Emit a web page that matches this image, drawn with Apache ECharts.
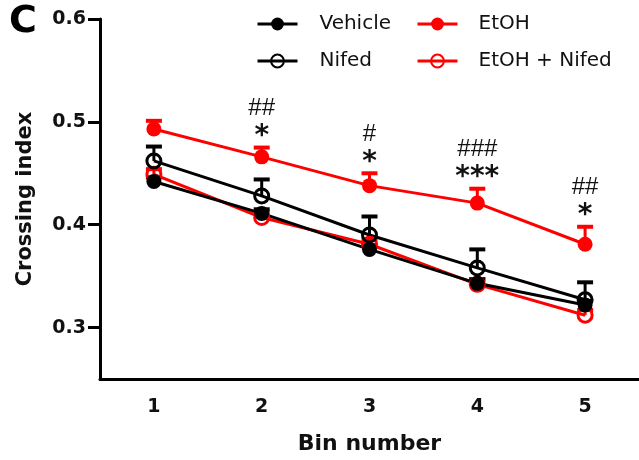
<!DOCTYPE html>
<html>
<head>
<meta charset="utf-8">
<script src="https://cdn.jsdelivr.net/npm/echarts@6/dist/echarts.min.js"></script>
<style>
html,body{margin:0;padding:0;background:#fff;}
#chart{width:639px;height:460px;}
</style>
</head>
<body>
<div id="chart"></div>
<script>
// bins and tick labels
var bins = ['1', '2', '3', '4', '5'];
var yTicks = [0.3, 0.4, 0.5, 0.6];

// group means and upper SEM
var vehicle = [0.442, 0.411, 0.376, 0.343, 0.322];
var vehicleErr = [0.004, 0.004, 0.004, 0.004, 0.004];
var nifed = [0.462, 0.428, 0.390, 0.358, 0.327];
var nifedErr = [0.014, 0.016, 0.018, 0.018, 0.017];
var etoh = [0.493, 0.466, 0.438, 0.421, 0.381];
var etohErr = [0.008, 0.009, 0.012, 0.014, 0.017];
var etohNifed = [0.449, 0.407, 0.381, 0.342, 0.312];
var etohNifedErr = [0.005, 0.005, 0.005, 0.005, 0.005];

// significance marks over EtOH
var hashMarks = ['', '##', '#', '###', '##'];
var starMarks = ['', '*', '*', '***', '*'];

var FONT = 'DejaVu Sans';

function errData(mean, err){
	return mean.map(function(m, i){ return [i, m, err[i]]; });
}

function errRender(color, withMarks){
	return function(params, api){
		var i = api.value(0), m = api.value(1), e = api.value(2);
		var p0 = api.coord([i, m]);
		var p1 = api.coord([i, m + e]);
		var kids = [
			{type:'line', shape:{x1:p0[0], y1:p0[1], x2:p1[0], y2:p1[1]}, style:{stroke:color, lineWidth:3}},
			{type:'line', shape:{x1:p1[0]-8, y1:p1[1], x2:p1[0]+8, y2:p1[1]}, style:{stroke:color, lineWidth:4}}
		];
		if (withMarks) {
			kids.push({type:'text', x:p1[0], y:p1[1]-39, style:{text:hashMarks[params.dataIndex], fill:'#111',
				fontFamily:'Liberation Sans', fontSize:24, align:'center', verticalAlign:'middle'}});
			kids.push({type:'text', x:p1[0], y:p1[1]-11, style:{text:starMarks[params.dataIndex], fill:'#111',
				fontFamily:FONT, fontWeight:'bold', fontSize:28, align:'center', verticalAlign:'middle'}});
		}
		return {type:'group', children:kids};
	};
}

function lineSeries(name, data, color, open){
	return {
		name: name,
		type: 'line',
		data: data,
		z: 3,
		symbol: 'circle',
		symbolSize: open ? 14 : 15,
		lineStyle: {color: color, width: 3},
		itemStyle: open ? {color: 'rgba(255,255,255,0)', borderColor: color, borderWidth: 3}
		                : {color: color, borderColor: color, borderWidth: 0},
		emphasis: {disabled: true},
		animation: false
	};
}

function errSeries(name, mean, err, color, withMarks){
	return {
		name: name,
		type: 'custom',
		z: 2,
		data: errData(mean, err),
		renderItem: errRender(color, withMarks),
		animation: false
	};
}

var myChart = echarts.init(document.getElementById('chart'));

var legendText = {fontFamily: FONT, fontSize: 20, color: '#111'};

var option = {
	title: {
		text: 'C', left: 4, top: -2,
		textStyle: {fontFamily: FONT, fontWeight: 'bold', fontSize: 38, color: '#000'}
	},
	legend: [{
		data: ['Vehicle', 'Nifed'],
		orient: 'vertical',
		left: 251, top: 9,
		itemWidth: 40, itemHeight: 16, itemGap: 17,
		lineStyle: {width: 3},
		textStyle: Object.assign({padding: [0, 0, 0, 17]}, legendText)
	}, {
		data: ['EtOH', 'EtOH + Nifed'],
		orient: 'vertical',
		left: 411, top: 9,
		itemWidth: 40, itemHeight: 16, itemGap: 17,
		lineStyle: {width: 3},
		textStyle: Object.assign({padding: [0, 0, 0, 16]}, legendText)
	}],
	grid: {left: 100, right: -3, top: 19, bottom: 81, containLabel: false},
	xAxis: {
		type: 'category',
		data: bins,
		name: 'Bin number',
		nameLocation: 'middle',
		nameGap: 54,
		nameTextStyle: {fontFamily: FONT, fontWeight: 'bold', fontSize: 22, color: '#111'},
		axisLine: {lineStyle: {color: '#000', width: 3}},
		axisTick: {alignWithLabel: true, length: 9, lineStyle: {color: '#000', width: 3}},
		axisLabel: {margin: 19, fontFamily: FONT, fontWeight: 'bold', fontSize: 19, color: '#111'},
		splitLine: {show: false}
	},
	yAxis: {
		type: 'value',
		min: 0.25, max: 0.6,
		name: 'Crossing index',
		nameLocation: 'middle',
		nameGap: 64,
		nameTextStyle: {fontFamily: FONT, fontWeight: 'bold', fontSize: 21, color: '#111'},
		axisLine: {show: true, lineStyle: {color: '#000', width: 3}},
		axisTick: {show: true, length: 12, customValues: yTicks, lineStyle: {color: '#000', width: 3}},
		axisLabel: {margin: 14, customValues: yTicks, fontFamily: FONT, fontWeight: 'bold', fontSize: 19, color: '#111',
			formatter: function(v){ return v.toFixed(1); }},
		splitLine: {show: false}
	},
	series: [
		errSeries('err-en', etohNifed, etohNifedErr, '#ff0000', false),
		errSeries('err-e', etoh, etohErr, '#ff0000', true),
		errSeries('err-v', vehicle, vehicleErr, '#000', false),
		errSeries('err-n', nifed, nifedErr, '#000', false),
		lineSeries('EtOH + Nifed', etohNifed, '#ff0000', true),
		lineSeries('EtOH', etoh, '#ff0000', false),
		lineSeries('Vehicle', vehicle, '#000', false),
		lineSeries('Nifed', nifed, '#000', true)
	]
};
myChart.setOption(option);
</script>
</body>
</html>
